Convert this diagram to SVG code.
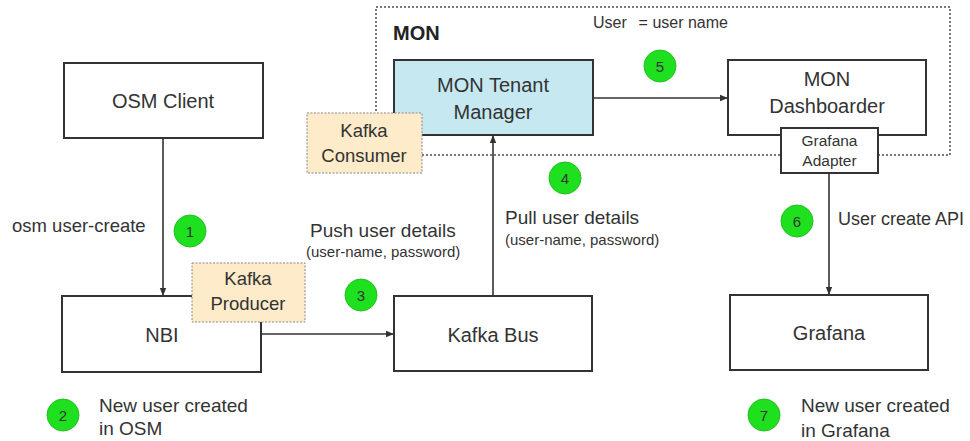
<svg xmlns="http://www.w3.org/2000/svg" width="970" height="441" viewBox="0 0 970 441">
<defs>
<style>
text{font-family:"Liberation Sans",Arial,sans-serif;fill:#333}
.box{fill:#fff;stroke:#333;stroke-width:2}
.kafka{fill:#fdebc9;stroke:#888;stroke-width:1;stroke-dasharray:2,1.5}
.lbl{font-size:20px;text-anchor:middle}
.klbl{font-size:18.5px;text-anchor:middle}
.t{font-size:19px}
.s{font-size:15px}
.num circle{fill:#1fe01f;stroke:#22c022;stroke-width:1}
.num text{font-size:15px;text-anchor:middle}
.conn{stroke:#333;stroke-width:1.6;fill:none;marker-end:url(#ah)}
</style>
<marker id="ah" viewBox="0 0 10 10" refX="10" refY="5" markerWidth="5" markerHeight="5" orient="auto" markerUnits="strokeWidth">
<path d="M0,1 L10,5 L0,9 z" fill="#333"/>
</marker>
</defs>
<rect width="970" height="441" fill="#fff"/>

<g id="mon-group">
<rect x="376" y="7" width="574" height="148" fill="none" stroke="#777" stroke-width="2" stroke-dasharray="2,2"/>
<text x="393" y="40" style="font-size:20px;font-weight:bold;fill:#222">MON</text>
<text x="593" y="28" style="font-size:16px">User</text>
<text x="728" y="28" style="font-size:16px;text-anchor:end">= user name</text>
</g>

<g id="connectors">
<line class="conn" x1="163" y1="138" x2="163" y2="296"/>
<line class="conn" x1="261" y1="334" x2="394" y2="334"/>
<line class="conn" x1="493" y1="296" x2="493" y2="135"/>
<line class="conn" x1="593" y1="98" x2="728" y2="98"/>
<line class="conn" x1="829" y1="173" x2="829" y2="295"/>
</g>

<g id="osm-client">
<rect class="box" x="64" y="63" width="199" height="75"/>
<text class="lbl" x="163" y="108">OSM Client</text>
</g>

<g id="nbi">
<rect class="box" x="62" y="296" width="199" height="76"/>
<text class="lbl" x="162" y="342">NBI</text>
</g>

<g id="kafka-producer">
<rect class="kafka" x="192" y="263" width="113" height="59"/>
<text class="klbl" x="248" y="285">Kafka</text>
<text class="klbl" x="248" y="310">Producer</text>
</g>

<g id="kafka-bus">
<rect class="box" x="394" y="296" width="198" height="75"/>
<text class="lbl" x="493" y="342">Kafka Bus</text>
</g>

<g id="mon-tenant-manager">
<rect x="394" y="60" width="199" height="75" fill="#c6e9f1" stroke="#333" stroke-width="2"/>
<text class="lbl" x="493" y="92">MON Tenant</text>
<text class="lbl" x="493" y="119">Manager</text>
</g>

<g id="kafka-consumer">
<rect class="kafka" x="307" y="113" width="115" height="60"/>
<text class="klbl" x="364" y="137">Kafka</text>
<text class="klbl" x="364" y="162">Consumer</text>
</g>

<g id="mon-dashboarder">
<rect class="box" x="728" y="60" width="198" height="75"/>
<text class="lbl" x="827" y="86">MON</text>
<text class="lbl" x="827" y="113">Dashboarder</text>
</g>

<g id="grafana-adapter">
<rect class="box" x="781" y="128" width="97" height="45"/>
<text x="829.5" y="146" style="font-size:15.5px;text-anchor:middle">Grafana</text>
<text x="829.5" y="166" style="font-size:15.5px;text-anchor:middle">Adapter</text>
</g>

<g id="grafana">
<rect class="box" x="730" y="295" width="198" height="75"/>
<text class="lbl" x="829" y="340">Grafana</text>
</g>

<g id="labels">
<text x="12" y="232" style="font-size:18.5px">osm user-create</text>
<text class="t" x="310" y="237">Push user details</text>
<text class="s" x="306" y="257">(user-name, password)</text>
<text class="t" x="505" y="224">Pull user details</text>
<text class="s" x="505" y="245">(user-name, password)</text>
<text x="838" y="225" style="font-size:18px">User create API</text>
<text class="t" x="99" y="412">New user created</text>
<text class="t" x="99" y="435">in OSM</text>
<text class="t" x="801" y="412">New user created</text>
<text class="t" x="801" y="437">in Grafana</text>
</g>

<g id="step-1" class="num"><circle cx="190" cy="231" r="16"/><text x="190" y="236.5">1</text></g>
<g id="step-2" class="num"><circle cx="63" cy="415" r="16"/><text x="63" y="420.5">2</text></g>
<g id="step-3" class="num"><circle cx="361" cy="295" r="16"/><text x="361" y="300.5">3</text></g>
<g id="step-4" class="num"><circle cx="565" cy="178" r="16"/><text x="565" y="183.5">4</text></g>
<g id="step-5" class="num"><circle cx="660" cy="66" r="16"/><text x="660" y="71.5">5</text></g>
<g id="step-6" class="num"><circle cx="797" cy="221" r="16"/><text x="797" y="226.5">6</text></g>
<g id="step-7" class="num"><circle cx="764" cy="415" r="16"/><text x="764" y="420.5">7</text></g>
</svg>
